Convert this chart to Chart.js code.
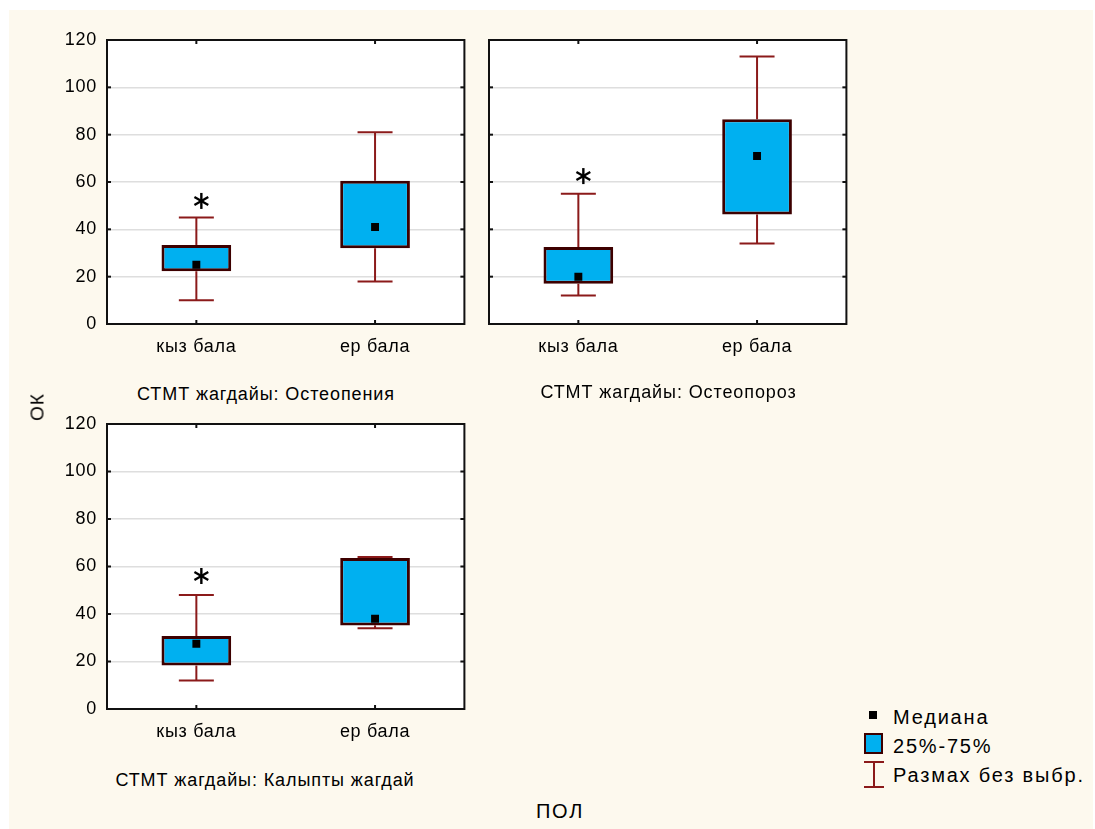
<!DOCTYPE html>
<html>
<head>
<meta charset="utf-8">
<script src="https://cdn.jsdelivr.net/npm/chart.js@4.4.1/dist/chart.umd.min.js"></script>
<style>
  html, body { margin: 0; padding: 0; width: 1095px; height: 829px; overflow: hidden; background: #ffffff; }
  body { position: relative; font-family: "Liberation Sans", Arial, sans-serif; color: #000; }
  #sheet { position: absolute; left: 9px; top: 10px; width: 1084px; height: 819px; background: #fdf9ee; }
  canvas.panel { position: absolute; }
  .txt { position: absolute; white-space: nowrap; line-height: 1; }
  .title { font-size: 18px; letter-spacing: 0.9px; transform: translate(-50%, -50%); }
  .leg { font-size: 20px; letter-spacing: 1.8px; transform: translateY(-50%); }
  #medSym { position: absolute; left: 869px; top: 711px; width: 8px; height: 8px; background: #000; }
  #boxSym { position: absolute; left: 864px; top: 733px; width: 19px; height: 21px; box-sizing: border-box;
            border: 2px solid #3d0000; background: #00b0f0; }
  #rangeSym { position: absolute; left: 863px; top: 761px; }
</style>
</head>
<body>
<div id="sheet"></div>
<canvas id="panel0" class="panel"></canvas>
<canvas id="panel1" class="panel"></canvas>
<canvas id="panel2" class="panel"></canvas>
<div id="texts"></div>
<div id="medSym"></div>
<div id="boxSym"></div>
<svg id="rangeSym" width="22" height="27">
  <line x1="11" y1="1" x2="11" y2="26" stroke="#8b1a1a" stroke-width="2"/>
  <line x1="1" y1="1" x2="21" y2="1" stroke="#8b1a1a" stroke-width="2"/>
  <line x1="1" y1="26" x2="21" y2="26" stroke="#8b1a1a" stroke-width="2"/>
</svg>
<script>
// Groups on the category axis
const categories = ['кыз бала', 'ер бала'];
// One panel per СТМТ condition
const panelTitles = ['СТМТ жагдайы: Остеопения', 'СТМТ жагдайы: Остеопороз', 'СТМТ жагдайы: Калыпты жагдай'];
const yTicks = [0, 20, 40, 60, 80, 100, 120];

// Box-plot statistics of ОК, [panel][category]
const whiskerLow  = [[10, 18], [12, 34], [12, 34]];
const quartile25  = [[22.3, 32], [17, 46.3], [18.3, 35.2]];
const medians     = [[25, 41], [20, 71], [27.5, 38]];
const quartile75  = [[33.4, 60.5], [32.5, 86.5], [30.7, 63.6]];
const whiskerHigh = [[45, 81], [55, 113], [48, 64]];
const outliers    = [[52, null], [62.5, null], [56, null]];

const yTitle = 'ОК';
const xTitle = 'ПОЛ';
const legendLabels = ['Медиана', '25%-75%', 'Размах без выбр.'];

// Plot-area placement of each panel on the page
const panelBoxes = [
  { left: 107, top: 40, right: 465, bottom: 324, yLabels: true },
  { left: 489, top: 40, right: 847, bottom: 324, yLabels: false },
  { left: 107, top: 423.5, right: 465, bottom: 709, yLabels: true }
];
const Y_AXIS_W = 60, X_AXIS_H = 45, PAD_TOP = 15, PAD_RIGHT = 5;

const FONT = '"Liberation Sans", Arial, sans-serif';
Chart.defaults.font.family = FONT;
Chart.defaults.color = '#000';

function line(ctx, x1, y1, x2, y2) {
  ctx.beginPath(); ctx.moveTo(x1, y1); ctx.lineTo(x2, y2); ctx.stroke();
}

// White plot background, whiskers, outlier asterisks, frame and inner tick marks
const boxPanelPlugin = {
  id: 'boxPanel',
  beforeDraw(chart) {
    const { ctx, chartArea: a } = chart;
    ctx.save();
    ctx.fillStyle = '#ffffff';
    ctx.fillRect(a.left, a.top, a.right - a.left, a.bottom - a.top);
    ctx.restore();
    ctx.letterSpacing = '0.7px';
  },
  beforeDatasetsDraw(chart, args, opts) {
    const { ctx } = chart;
    const xs = chart.scales.x, ys = chart.scales.y;
    ctx.save();
    ctx.strokeStyle = '#8b1a1a';
    ctx.lineWidth = 2;
    opts.low.forEach((lo, i) => {
      const cx = xs.getPixelForValue(i);
      const yLo = ys.getPixelForValue(lo), yHi = ys.getPixelForValue(opts.high[i]);
      const yQ1 = ys.getPixelForValue(opts.q1[i]), yQ3 = ys.getPixelForValue(opts.q3[i]);
      line(ctx, cx, yLo, cx, yQ1);
      line(ctx, cx, yQ3, cx, yHi);
      line(ctx, cx - 17.5, yLo, cx + 17.5, yLo);
      line(ctx, cx - 17.5, yHi, cx + 17.5, yHi);
    });
    ctx.restore();
  },
  afterDatasetsDraw(chart, args, opts) {
    const { ctx, chartArea: a } = chart;
    const xs = chart.scales.x, ys = chart.scales.y;
    ctx.save();
    // outlier asterisks
    ctx.strokeStyle = '#000';
    ctx.lineWidth = 2.4;
    opts.outliers.forEach((v, i) => {
      if (v === null) return;
      const cx = xs.getPixelForValue(i) + 5, cy = ys.getPixelForValue(v), r = 8;
      [90, 30, 150].forEach(deg => {
        const t = deg * Math.PI / 180;
        line(ctx, cx - r * Math.cos(t), cy - r * Math.sin(t), cx + r * Math.cos(t), cy + r * Math.sin(t));
      });
    });
    // frame
    ctx.strokeStyle = '#111';
    ctx.lineWidth = 2;
    ctx.strokeRect(a.left, a.top, a.right - a.left, a.bottom - a.top);
    // inward tick marks
    const tl = 4;
    ys.ticks.forEach(t => {
      const py = ys.getPixelForValue(t.value);
      line(ctx, a.left, py, a.left + tl, py);
      line(ctx, a.right - tl, py, a.right, py);
    });
    categories.forEach((c, i) => {
      const px = xs.getPixelForValue(i);
      line(ctx, px, a.top, px, a.top + tl);
      line(ctx, px, a.bottom - tl, px, a.bottom);
    });
    ctx.restore();
  }
};

panelBoxes.forEach((box, p) => {
  const cv = document.getElementById('panel' + p);
  const left = box.left - Y_AXIS_W, top = box.top - PAD_TOP;
  const w = box.right + PAD_RIGHT - left, h = box.bottom + X_AXIS_H - top;
  cv.width = w; cv.height = h;
  cv.style.left = left + 'px'; cv.style.top = top + 'px';
  cv.style.width = w + 'px'; cv.style.height = h + 'px';

  new Chart(cv, {
    type: 'bar',
    data: {
      labels: categories,
      datasets: [
        {
          type: 'bar',
          data: categories.map((c, i) => [quartile25[p][i], quartile75[p][i]]),
          backgroundColor: '#00b0f0',
          borderColor: '#3d0000',
          borderWidth: 3,
          borderSkipped: false,
          barPercentage: 0.39,
          categoryPercentage: 1,
          order: 2
        },
        {
          type: 'line',
          data: medians[p],
          showLine: false,
          pointStyle: 'rect',
          pointRadius: 5.6,
          pointBackgroundColor: '#000',
          pointBorderWidth: 0,
          order: 1
        }
      ]
    },
    options: {
      responsive: false,
      animation: false,
      devicePixelRatio: 1,
      layout: { padding: { top: PAD_TOP, right: PAD_RIGHT, left: 0, bottom: 0 } },
      plugins: {
        legend: { display: false },
        tooltip: { enabled: false },
        title: { display: false },
        boxPanel: {
          low: whiskerLow[p], high: whiskerHigh[p],
          q1: quartile25[p], q3: quartile75[p],
          outliers: outliers[p]
        }
      },
      scales: {
        x: {
          type: 'category',
          offset: true,
          grid: { display: false, drawTicks: false },
          border: { display: false },
          ticks: { font: { size: 18 }, padding: 12, color: '#000', maxRotation: 0 },
          afterFit(s) { s.height = X_AXIS_H; s.paddingLeft = 0; s.paddingRight = 0; }
        },
        y: {
          min: 0, max: 120,
          afterBuildTicks(s) { s.ticks = yTicks.map(v => ({ value: v })); },
          ticks: { display: box.yLabels, font: { size: 18 }, padding: 10, color: '#000' },
          grid: {
            drawTicks: false,
            lineWidth: 1.5,
            color: c => (c.tick && (c.tick.value === 0 || c.tick.value === 120)) ? 'rgba(0,0,0,0)' : '#dedede'
          },
          border: { display: false },
          afterFit(s) { s.width = Y_AXIS_W; s.paddingTop = 0; s.paddingBottom = 0; }
        }
      }
    },
    plugins: [boxPanelPlugin]
  });
});

// Text around the panels
const texts = document.getElementById('texts');
function addText(str, cls, x, y, extra) {
  const d = document.createElement('div');
  d.className = 'txt ' + cls;
  d.textContent = str;
  d.style.left = x + 'px';
  d.style.top = y + 'px';
  if (extra) Object.assign(d.style, extra);
  texts.appendChild(d);
}
const titleCentres = [[266, 393.5], [668.5, 392], [265, 780]];
panelTitles.forEach((t, i) => addText(t, 'title', titleCentres[i][0], titleCentres[i][1]));
addText(yTitle, '', 37, 407, { fontSize: '19px', letterSpacing: '1px', transform: 'translate(-50%, -50%) rotate(-90deg)' });
addText(xTitle, '', 560, 811, { fontSize: '20px', letterSpacing: '1.8px', transform: 'translate(-50%, -50%)' });
const legendY = [717, 745.5, 775];
legendLabels.forEach((t, i) => addText(t, 'leg', 893, legendY[i]));
</script>
</body>
</html>
